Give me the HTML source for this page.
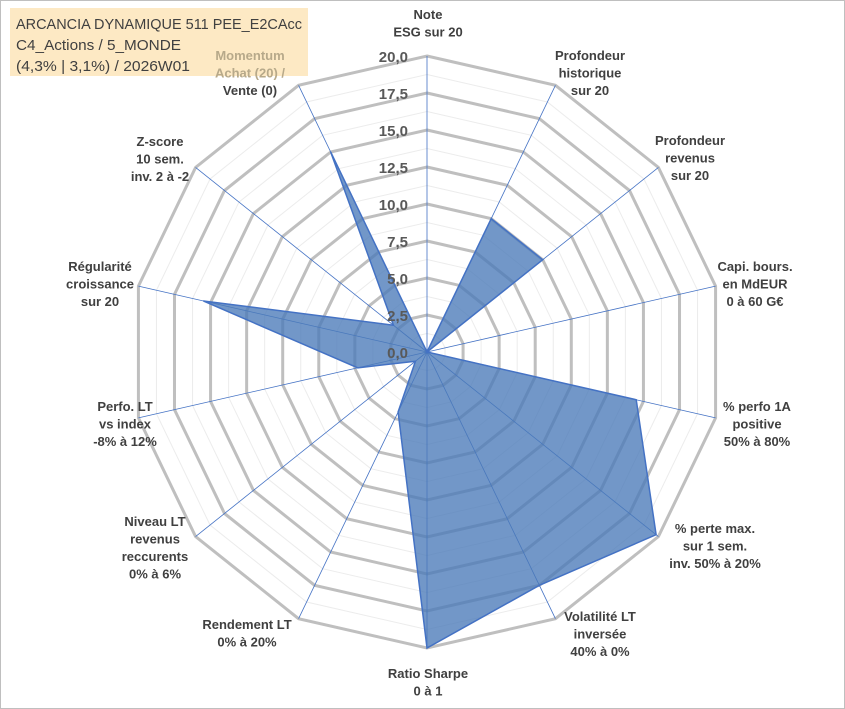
<!DOCTYPE html>
<html><head><meta charset="utf-8"><style>
body{margin:0;background:#fff}
svg{display:block;font-family:"Liberation Sans",sans-serif}
.lab{font-size:13px;font-weight:bold;fill:#404040;text-anchor:middle}
.tick{font-size:15px;font-weight:bold;fill:#595959;text-anchor:end}
</style></head><body>
<svg id="c" width="845" height="709">
<rect x="0.5" y="0.5" width="844" height="708" fill="#fff" stroke="#bfbfbf"/>
<rect x="10" y="8" width="298" height="68" fill="#fde9c4"/>
<text x="16" y="29" font-size="15" fill="#404040" textLength="286" lengthAdjust="spacingAndGlyphs">ARCANCIA DYNAMIQUE 511 PEE_E2CAcc</text>
<text x="16" y="50" font-size="15" fill="#404040" textLength="165" lengthAdjust="spacingAndGlyphs">C4_Actions / 5_MONDE</text>
<text x="16" y="71" font-size="15" fill="#404040" textLength="174" lengthAdjust="spacingAndGlyphs">(4,3% | 3,1%) / 2026W01</text>
<g id="grid"></g><g id="series"></g><g id="labels"></g><g id="ticks"></g>
</svg>
<script>
const categories=["Note|ESG sur 20","Profondeur|historique|sur 20","Profondeur|revenus|sur 20","Capi. bours.|en MdEUR|0 à 60 G€","% perfo 1A|positive|50% à 80%","% perte max.|sur 1 sem.|inv. 50% à 20%","Volatilité LT|inversée|40% à 0%","Ratio Sharpe|0 à 1","Rendement LT|0% à 20%","Niveau LT|revenus|reccurents|0% à 6%","Perfo. LT|vs index|-8% à 12%","Régularité|croissance|sur 20","Z-score|10 sem.|inv. 2 à -2","Momentum|Achat (20) /|Vente (0)"];
const values=[0,10,10,0,14.5,19.8,17.5,20,4.5,1,4.8,15.5,2.9,15];
const tickLabels=["0,0","2,5","5,0","7,5","10,0","12,5","15,0","17,5","20,0"];
const maxV=20;
const cx=427,cy=352,R=296,NS="http://www.w3.org/2000/svg";
const labelAnchors=[[428,14],[590,55],[690,140],[755,266],[757,406],[715,528],[600,616],[428,673],[247,624],[155,521],[125,406],[100,266],[160,141],[250,55]];
const n=categories.length;
function ang(i){return i*2*Math.PI/n;}
function pt(i,v){const r=v/maxV*R;return [cx+r*Math.sin(ang(i)),cy-r*Math.cos(ang(i))];}
function mk(t,a,p){const e=document.createElementNS(NS,t);for(const k in a)e.setAttribute(k,a[k]);p.appendChild(e);return e;}
const grid=document.getElementById('grid');
for(let k=1;k<=16;k++){const v=k*1.25;const pts=[];for(let i=0;i<n;i++)pts.push(pt(i,v).join(','));
const major=k%2==0;
const g=mk('polygon',{points:pts.join(' '),fill:'none',stroke:major?'#bfbfbf':'#ececec','stroke-width':major?3:1},grid);

}
for(let i=0;i<n;i++){const p=pt(i,maxV);const l=mk('line',{x1:cx,y1:cy,x2:p[0],y2:p[1],stroke:'#4472c4','stroke-width':0.8},grid);

}
const s=document.getElementById('series');
const sp=values.map((v,i)=>pt(i,v).join(',')).join(' ');
const poly=mk('polygon',{points:sp,fill:'#4a7ab8','fill-opacity':0.78,stroke:'#4472c4','stroke-width':1.5},s);


const tk=document.getElementById('ticks');
tickLabels.forEach((t,k)=>{const v=k*2.5;const e=mk('text',{x:cx-19,y:cy-v/maxV*R+6,class:'tick'},tk);e.textContent=t;

});
const lb=document.getElementById('labels');
categories.forEach((c,i)=>{const lines=c.split('|');const a=labelAnchors[i];
const t=mk('text',{x:a[0],y:a[1]+5,class:'lab'},lb);


lines.forEach((ln,j)=>{const ts=mk('tspan',{x:a[0],dy:j?17.5:0},t);ts.textContent=ln;
if(i==n-1&&j<2)ts.setAttribute('fill','#b7a98a');});});
</script>
</body></html>
